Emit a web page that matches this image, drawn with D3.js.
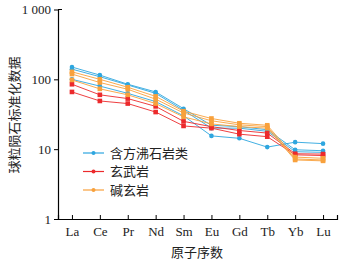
<!DOCTYPE html>
<html>
<head>
<meta charset="utf-8">
<script src="https://cdn.jsdelivr.net/npm/d3@7"></script>
<style>
	body { margin: 0; background: #fff; }
	svg text { fill: #222; }
</style>
</head>
<body>
<div id="chart"></div>
<script>
{ // start block scope

	// REE names along the x axis
	const elements = ["La", "Ce", "Pr", "Nd", "Sm", "Eu", "Gd", "Tb", "Yb", "Lu"];
	const yTicks = [1, 10, 100, 1000];
	const yTickLabels = ["1", "10", "100", "1 000"];

	// 含方沸石岩类 (analcime-bearing rocks)
	const analcimeRocks = [
		[150, 115, 85, 66, 38, 22, 21, 19, 9.8, 9.5],
		[140, 109, 83, 63, 36, 20, 20, 18, 9.2, 9.0],
		[100, 80, 63, 48, 30, 15.5, 14.3, 10.7, 12.6, 12]
	];
	// 玄武岩 (basalt)
	const basalts = [
		[85, 60, 53, 41, 25, 21, 18.5, 17, 8.6, 8.5],
		[66, 49, 45, 34, 21.5, 20, 16.4, 15.1, 8.3, 8.1]
	];
	// 碱玄岩 (tephrite)
	const tephrites = [
		[128, 100, 77, 57, 35, 27.5, 23.5, 22, 7.7, 7.4],
		[119, 90, 72, 52, 33, 25.5, 22.3, 21, 7.25, 7.0],
		[98, 73, 60, 45, 29, 23, 21, 20, 7.0, 6.8]
	];

	const groups = [
		{ name: "含方沸石岩类", color: "#2ea6df", shape: "circle", rows: analcimeRocks },
		{ name: "玄武岩", color: "#ec2a2c", shape: "square", rows: basalts },
		{ name: "碱玄岩", color: "#f8a13c", shape: "square", rows: tephrites }
	];

	var width = 343,
		height = 263;
	var margin = { left: 58, right: 6, top: 9.5, bottom: 44 };

	var svg = d3
		.select("#chart")
		.append("svg")
		.attr("width", width)
		.attr("height", height);

	var x = d3
		.scalePoint()
		.domain(elements)
		.range([margin.left, width - margin.right])
		.padding(0.5);

	var y = d3
		.scaleLog()
		.domain([1, 1000])
		.range([height - margin.bottom, margin.top]);

	// x axis, ticks pointing into the plot
	const xAxis = svg
		.append("g")
		.attr("transform", `translate(0, ${height - margin.bottom})`)
		.call(d3.axisBottom(x).tickSize(-4).tickSizeOuter(-4).tickPadding(8));
	xAxis.selectAll("text")
		.style("font", "13px 'Liberation Serif', serif");

	// y axis
	const yAxis = svg
		.append("g")
		.attr("transform", `translate(${margin.left}, 0)`)
		.call(
			d3.axisLeft(y)
				.tickValues(yTicks)
				.tickFormat((d, i) => yTickLabels[i])
				.tickSize(4)
				.tickSizeOuter(0)
				.tickPadding(3)
		);
	yAxis.selectAll("text")
		.style("font", "13px 'Liberation Serif', serif");
	// little cap at top of y axis
	yAxis.append("line")
		.attr("x1", 0).attr("x2", 4)
		.attr("y1", y(1000)).attr("y2", y(1000))
		.attr("stroke", "currentColor");
	svg.selectAll(".domain").attr("stroke-width", 1.2);

	var line = d3
		.line()
		.x((d, i) => x(elements[i]))
		.y((d) => y(d));

	// draw series
	groups.forEach((g) => {
		const grp = svg.append("g");
		g.rows.forEach((row) => {
			grp.append("path")
				.attr("d", line(row))
				.attr("fill", "none")
				.attr("stroke", g.color)
				.attr("stroke-width", 1)
				.attr("opacity", 0.9);
			if (g.shape === "circle") {
				grp.selectAll(null)
					.data(row)
					.join("circle")
					.attr("cx", (d, i) => x(elements[i]))
					.attr("cy", (d) => y(d))
					.attr("r", 2.3)
					.attr("fill", g.color);
			} else {
				grp.selectAll(null)
					.data(row)
					.join("rect")
					.attr("x", (d, i) => x(elements[i]) - 2.3)
					.attr("y", (d) => y(d) - 2.3)
					.attr("width", 4.6)
					.attr("height", 4.6)
					.attr("fill", g.color);
			}
		});
	});

	// legend
	const legend = svg.append("g").attr("transform", "translate(83, 153)");
	groups.forEach((g, i) => {
		const row = legend.append("g").attr("transform", `translate(0, ${i * 18.5})`);
		row.append("line")
			.attr("x1", 0).attr("x2", 21)
			.attr("stroke", g.color).attr("stroke-width", 1.2);
		row.append("circle").attr("cx", 10.5).attr("r", 2).attr("fill", g.color);
		row.append("text")
			.attr("x", 27)
			.attr("dy", "0.35em")
			.style("font", "13px 'Noto Sans CJK SC', sans-serif")
			.text(g.name);
	});

	// axis titles
	svg.append("text")
		.attr("x", 197)
		.attr("y", 257)
		.attr("text-anchor", "middle")
		.style("font", "13px 'Noto Sans CJK SC', sans-serif")
		.text("原子序数");

	svg.append("text")
		.attr("transform", `translate(19, 115) rotate(-90)`)
		.attr("text-anchor", "middle")
		.style("font", "13px 'Noto Sans CJK SC', sans-serif")
		.text("球粒陨石标准化数据");

} // end block scope
</script>
</body>
</html>
